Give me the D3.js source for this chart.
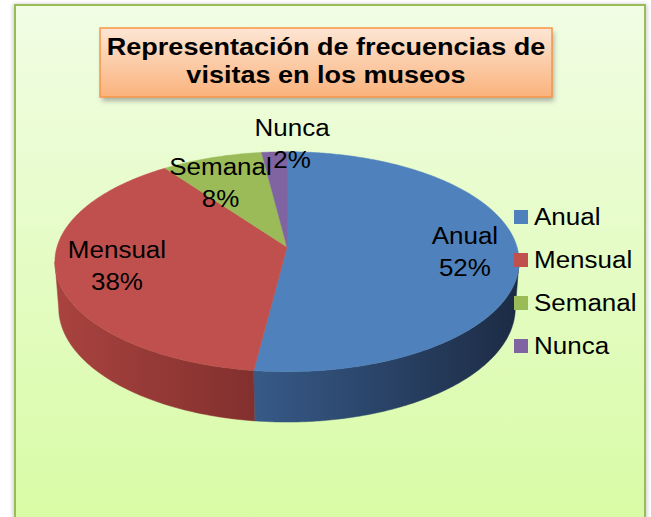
<!DOCTYPE html>
<html>
<head>
<meta charset="utf-8">
<script src="https://cdn.jsdelivr.net/npm/d3@7"></script>
<style>
  body { margin: 0; background: #fff; }
  svg { display: block; }
  text { font-family: "Liberation Sans", Arial, sans-serif; }
</style>
</head>
<body>
<div id="container"></div>
<script>
/* DATA */
const categories = ["Anual", "Mensual", "Semanal", "Nunca"]
const values = [52, 38, 8, 2]
const pctLabels = ["52%", "38%", "8%", "2%"]
const titleLines = ["Representación de frecuencias de", "visitas en los museos"]

/* STYLE */
const width = 651, height = 517
const topColors = ["#4f81bd", "#c0504d", "#9bbb59", "#8064a2"]
const sideColors = [["#375a88", "#1c2b44"], ["#a9433f", "#82302e"], ["#7c9a44", "#63803a"], ["#65508a", "#4d3c6a"]]
// label placement: radius on the disc, then a nudge in pixels
const labelR = [0.77, 0.77, 0.77, 1.1]
const labelNudge = [[0, 0], [6, -2], [-7, 7], [19, 0]]
const stretch = 1.13 // the original picture is a bit wider than tall

// camera for the 3d pie
const cam = { cx: 287, cy: 247, f: 1518, D: 6.6, phi: 28 * Math.PI / 180, depth: 0.229 }

function proj(a, r, h) {
  const u = r * Math.sin(a), v = r * Math.cos(a)
  const s = Math.sin(cam.phi), c = Math.cos(cam.phi)
  const yc = h * c + v * s
  const zc = cam.D + v * c - h * s
  return [cam.cx + cam.f * u / zc, cam.cy - cam.f * yc / zc]
}

function arcPoints(a0, a1, h) {
  const n = Math.max(2, Math.ceil(Math.abs(a1 - a0) / 0.01))
  return d3.range(n + 1).map(i => proj(a0 + (a1 - a0) * i / n, 1, h))
}

const svg = d3.select("#container").append("svg")
  .attr("width", width).attr("height", height)

const defs = svg.append("defs")

// frame background
const bg = defs.append("linearGradient").attr("id", "bg")
  .attr("x1", 0).attr("y1", 0).attr("x2", 0).attr("y2", 1)
bg.append("stop").attr("offset", "0%").attr("stop-color", "#f1fde4")
bg.append("stop").attr("offset", "100%").attr("stop-color", "#d7fba2")

const tg = defs.append("linearGradient").attr("id", "titlebg")
  .attr("x1", 0).attr("y1", 0).attr("x2", 0).attr("y2", 1)
tg.append("stop").attr("offset", "0%").attr("stop-color", "#fde6d4")
tg.append("stop").attr("offset", "100%").attr("stop-color", "#fab27c")

const blur = defs.append("filter").attr("id", "shadow")
  .attr("x", "-10%").attr("y", "-10%").attr("width", "120%").attr("height", "130%")
blur.append("feGaussianBlur").attr("stdDeviation", 2.5)

const frameShadow = defs.append("filter").attr("id", "fshadow")
  .attr("x", "-5%").attr("y", "-5%").attr("width", "110%").attr("height", "110%")
frameShadow.append("feGaussianBlur").attr("stdDeviation", 2)

sideColors.forEach((sc, i) => {
  const g = defs.append("linearGradient").attr("id", "side" + i)
    .attr("x1", 0).attr("y1", 0).attr("x2", 1).attr("y2", 0)
  g.append("stop").attr("offset", "0%").attr("stop-color", sc[0])
  g.append("stop").attr("offset", "100%").attr("stop-color", sc[1])
})

// chart area frame
svg.append("rect")
  .attr("x", 13).attr("y", 4).attr("width", 634).attr("height", 540)
  .attr("fill", "#999").attr("opacity", 0.5)
  .attr("filter", "url(#fshadow)")
svg.append("rect")
  .attr("x", 15).attr("y", 5).attr("width", 630).attr("height", 540)
  .attr("fill", "url(#bg)")
  .attr("stroke", "#9bbb59").attr("stroke-width", 2)

// title box
svg.append("rect")
  .attr("x", 102).attr("y", 32).attr("width", 452).attr("height", 69)
  .attr("fill", "#7f7f7f").attr("opacity", 0.6)
  .attr("filter", "url(#shadow)")
svg.append("rect")
  .attr("x", 100).attr("y", 28).attr("width", 452).attr("height", 69)
  .attr("fill", "url(#titlebg)")
  .attr("stroke", "#f79646").attr("stroke-width", 1.5)

svg.selectAll("text.title")
  .data(titleLines)
  .join("text")
  .attr("class", "title")
  .attr("transform", (d, i) => `translate(326, ${55 + i * 28}) scale(1.15,1)`)
  .attr("text-anchor", "middle")
  .attr("font-size", "23.5px")
  .attr("font-weight", "bold")
  .attr("fill", "#000")
  .text(d => d)

/* PIE */
const pie = d3.pie().sort(null).value(d => d)
const arcs = pie(values)

const pieG = svg.append("g")

// visible range of the outer wall
const wallMin = Math.acos(-Math.cos(cam.phi) / cam.D)
const wallMax = 2 * Math.PI - wallMin

arcs.forEach((a, i) => {
  const s = Math.max(a.startAngle, wallMin)
  const e = Math.min(a.endAngle, wallMax)
  if (e <= s) return
  const topPts = arcPoints(s, e, 0)
  const botPts = arcPoints(e, s, -cam.depth)
  pieG.append("path")
    .attr("class", "wall")
    .attr("d", d3.line()(topPts.concat(botPts)) + "Z")
    .attr("fill", `url(#side${i})`)
    .attr("stroke", `url(#side${i})`).attr("stroke-width", 0.5)
})

arcs.forEach((a, i) => {
  const pts = [proj(0, 0, 0)].concat(arcPoints(a.startAngle, a.endAngle, 0))
  pieG.append("path")
    .attr("class", "top")
    .attr("d", d3.line()(pts) + "Z")
    .attr("fill", topColors[i])
    .attr("stroke", topColors[i]).attr("stroke-width", 0.5)
})

// data labels
arcs.forEach((a, i) => {
  const mid = (a.startAngle + a.endAngle) / 2
  const [x, y] = proj(mid, labelR[i], 0)
  const g = svg.append("g")
    .attr("transform", `translate(${x + labelNudge[i][0]}, ${y + labelNudge[i][1]}) scale(${stretch},1)`)
  g.append("text").attr("y", -8).attr("text-anchor", "middle")
    .attr("font-size", "23px").attr("fill", "#000").text(categories[i])
  g.append("text").attr("y", 24).attr("text-anchor", "middle")
    .attr("font-size", "23px").attr("fill", "#000").text(pctLabels[i])
})

/* LEGEND */
const legendY = d3.scalePoint().domain(categories).range([217, 346])
const legend = svg.selectAll("g.legend")
  .data(categories)
  .join("g")
  .attr("class", "legend")
  .attr("transform", d => `translate(514, ${legendY(d)})`)
legend.append("rect")
  .attr("x", 0).attr("y", -7).attr("width", 14).attr("height", 14)
  .attr("fill", (d, i) => topColors[i])
legend.append("text")
  .attr("transform", `translate(20, 8) scale(${stretch},1)`)
  .attr("font-size", "23px").attr("fill", "#000")
  .text(d => d)
</script>
</body>
</html>
